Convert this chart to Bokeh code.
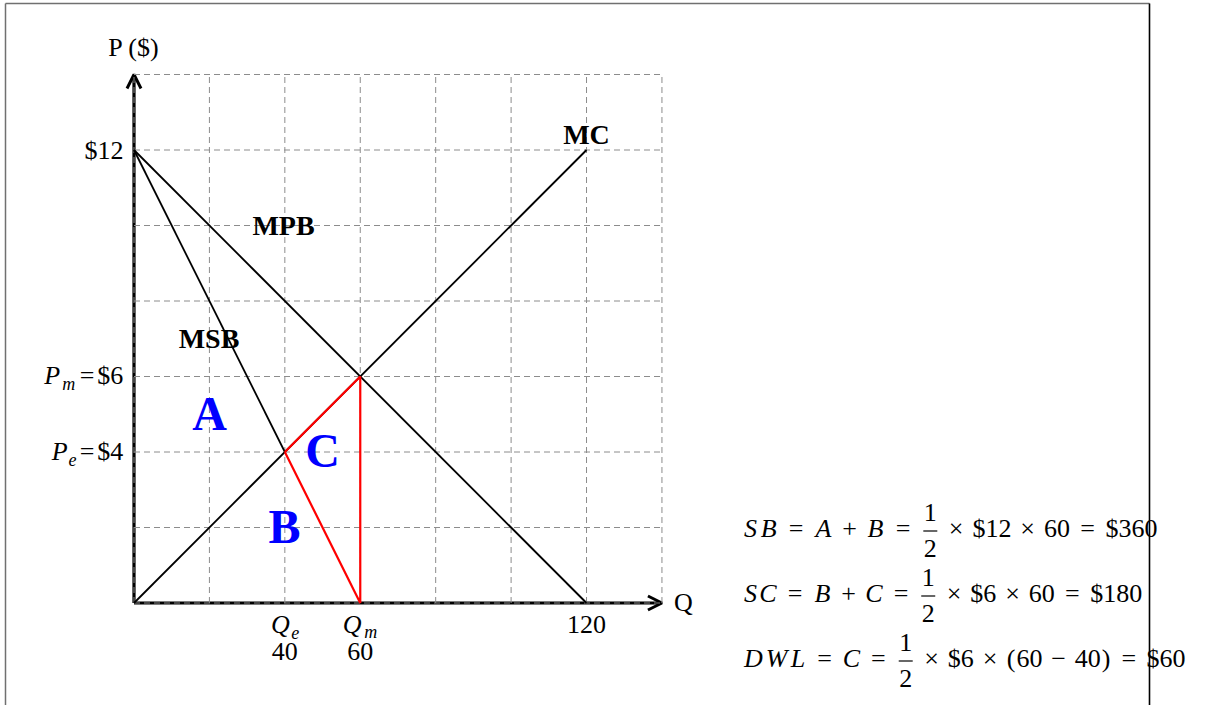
from bokeh.plotting import figure
from bokeh.models import Range1d, Arrow, OpenHead
from bokeh.embed import file_html
from bokeh.resources import INLINE
from bokeh.core.properties import value

# ---------------- data ----------------
Q_GRID = [0, 20, 40, 60, 80, 100, 120, 140]
P_GRID = [0, 2, 4, 6, 8, 10, 12, 14]
Q_AXIS_END = 140
P_AXIS_END = 14

MC_Q = [0, 120]
MC_P = [0, 12]
MPB_Q = [0, 120]
MPB_P = [12, 0]
MSB_Q = [0, 40]
MSB_P = [12, 4]
RED_Q = [40, 60, 60, 40]
RED_P = [4, 6, 0, 4]

P_MAX = 12
P_M = 6
P_E = 4
Q_E = 40
Q_M = 60
Q_MAX = 120

CURVE_LABELS = ["MC", "MPB", "MSB"]
AREA_LABELS = ["A", "B", "C"]

# ---------------- layout ----------------
OFF_X, OFF_Y = 0, 0          # picture position of the canvas
W, H = 1199, 705
X0, SX = 133.5 - OFF_X, 3.771   # canvas pixel of Q=0, pixels per Q unit
Y0, SY = 602.5 - OFF_Y, 37.75   # canvas pixel of P=0, pixels per P unit
FONT = "Liberation Serif"
FS = 26
BFS = 28
SUB = 18
EM = 26.3
BASE_FIX = 0.36   # em correction between measured glyph bottoms and the drawn baseline


def dx(x):   # picture pixel -> data
    return (x - OFF_X - X0) / SX


def dy(y):
    return (Y0 - (y - OFF_Y)) / SY


def px(q):   # data -> picture pixel
    return OFF_X + X0 + q * SX


def py(v):
    return OFF_Y + Y0 - v * SY


p = figure(width=W, height=H, output_backend="svg", toolbar_location=None,
           x_range=Range1d(dx(OFF_X), dx(OFF_X + W)), y_range=Range1d(dy(OFF_Y + H), dy(OFF_Y)),
           x_axis_type=None, y_axis_type=None, min_border=0)
p.outline_line_color = None
p.background_fill_color = "white"
p.border_fill_color = "white"

# page frame
p.line([dx(5), dx(5)], [dy(3), dy(H + 30)], line_color="#707070", line_width=1.5)
p.line([dx(5), dx(1149)], [dy(3), dy(3)], line_color="#707070", line_width=1.5)
p.line([dx(1149), dx(1149)], [dy(3), dy(H + 30)], line_color="black", line_width=1.6)

# axes with arrows (under the grid)
for xs, ys, xe, ye in [(0, 0, Q_AXIS_END, 0), (0, 0, 0, P_AXIS_END)]:
    p.add_layout(Arrow(end=OpenHead(size=14, line_width=3, line_color="black"),
                       x_start=xs, y_start=ys, x_end=xe, y_end=ye,
                       line_width=3.2, line_color="black", level="underlay"))

# dashed grid
p.multi_line([[q, q] for q in Q_GRID], [[0, P_AXIS_END] for _ in Q_GRID],
             line_color="#8c8c8c", line_width=1, line_dash="6 4")
p.multi_line([[0, Q_AXIS_END] for _ in P_GRID], [[v, v] for v in P_GRID],
             line_color="#8c8c8c", line_width=1, line_dash="6 4")

# curves
for qs, ps in [(MC_Q, MC_P), (MPB_Q, MPB_P), (MSB_Q, MSB_P)]:
    p.line(qs, ps, line_color="black", line_width=1.8)
p.line(RED_Q, RED_P, line_color="#ff0000", line_width=2.2)

# ---------------- texts ----------------
groups = {}


def put(txt, x, y, size=FS, style="normal", color="black", align="center"):
    key = (style, size, color, align)
    g = groups.setdefault(key, {"x": [], "y": [], "t": []})
    g["x"].append(dx(x))
    g["y"].append(dy(y - BASE_FIX * size))
    g["t"].append(txt)


def tokens_width(tokens):
    return sum(t[1] for t in tokens) * EM


bars = []


def place(tokens, x_start, base):
    x = x_start
    for tok in tokens:
        txt, w, style = tok[0], tok[1], tok[2]
        wpx = w * EM
        if txt == "FRAC":
            cx = x + wpx / 2
            put(tok[3], cx, base - 16)
            put(tok[4], cx, base + 20)
            bars.append((cx, base - 6.5))
        elif txt:
            sub = len(tok) > 3 and tok[3] == "sub"
            put(txt, x + wpx / 2, base + (5 if sub else 0),
                size=SUB if sub else FS, style=style)
        x += wpx
    return x


TH = ("", 0.278, "normal")   # thick math space
MD = ("", 0.222, "normal")   # medium math space
EQ = [TH, ("=", 0.778, "normal"), TH]
TIMES = [MD, ("\u00d7", 0.778, "normal"), MD]
PLUS = [MD, ("+", 0.778, "normal"), MD]
MINUS = [MD, ("\u2212", 0.778, "normal"), MD]
HALF = [("FRAC", 0.74, "normal", "1", "2")]

row1 = ([("S", 0.613, "italic"), ("B", 0.759, "italic")] + EQ + [("A", 0.75, "italic")] + PLUS
        + [("B", 0.759, "italic")] + EQ + HALF + TIMES + [("$12", 1.5, "normal")] + TIMES
        + [("60", 1.0, "normal")] + EQ + [("$360", 2.0, "normal")])
row2 = ([("S", 0.613, "italic"), ("C", 0.715, "italic")] + EQ + [("B", 0.759, "italic")] + PLUS
        + [("C", 0.715, "italic")] + EQ + HALF + TIMES + [("$6", 1.0, "normal")] + TIMES
        + [("60", 1.0, "normal")] + EQ + [("$180", 2.0, "normal")])
row3 = ([("D", 0.828, "italic"), ("W", 0.944, "italic"), ("L", 0.681, "italic")] + EQ
        + [("C", 0.715, "italic")] + EQ + HALF + TIMES + [("$6", 1.0, "normal")] + TIMES
        + [("(", 0.389, "normal"), ("60", 1.0, "normal")] + MINUS
        + [("40", 1.0, "normal"), (")", 0.389, "normal")] + EQ + [("$60", 1.5, "normal")])
for row, base in [(row1, 537), (row2, 602), (row3, 667)]:
    place(row, 742, base)

# axis titles
put("P ($)", px(0), 56)
put("Q", px(Q_AXIS_END) + 12, 611, align="left")

# price tick labels (right aligned at x=123)
put("$%d" % P_MAX, 123, py(P_MAX) + 9.5, align="right")
for sub, val in [("m", P_M), ("e", P_E)]:
    toks = [("P", 0.642, "italic"), (sub, 0.615 if sub == "m" else 0.33, "italic", "sub"),
            ("=", 0.778, "normal"), ("$%d" % val, 1.0, "normal")]
    place(toks, 123 - tokens_width(toks), py(val) + 8.5)

# quantity tick labels
for sub, val in [("e", Q_E), ("m", Q_M)]:
    toks = [("Q", 0.791, "italic"), (sub, 0.615 if sub == "m" else 0.33, "italic", "sub")]
    place(toks, px(val) - tokens_width(toks) / 2, 633)
    put(str(val), px(val), 660)
put(str(Q_MAX), px(Q_MAX), 633)

# curve labels
put(CURVE_LABELS[0], px(120), 144, size=BFS, style="bold")
put(CURVE_LABELS[1], 283, 235, size=BFS, style="bold")
put(CURVE_LABELS[2], 208.5, 348, size=BFS, style="bold")

# area labels
put(AREA_LABELS[0], 209, 430, size=48, style="bold", color="#0000ff")
put(AREA_LABELS[1], 284, 543, size=48, style="bold", color="#0000ff")
put(AREA_LABELS[2], 322, 467, size=48, style="bold", color="#0000ff")

for (style, size, color, align), g in groups.items():
    p.text(x=g["x"], y=g["y"], text=g["t"], text_font=value(FONT),
           text_font_size="%dpx" % size, text_font_style=style, text_color=color,
           text_align=align, text_baseline="alphabetic")

# fraction bars
p.segment(x0=[dx(c - 7) for c, _ in bars], y0=[dy(b) for _, b in bars],
          x1=[dx(c + 7) for c, _ in bars], y1=[dy(b) for _, b in bars],
          line_color="black", line_width=1.2)

open("out.html", "w").write(file_html(p, INLINE))
